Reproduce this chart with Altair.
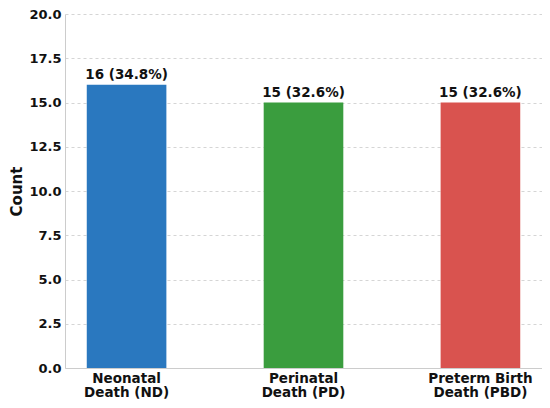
import altair as alt
import pandas as pd

categories = ["Neonatal\nDeath (ND)", "Perinatal\nDeath (PD)", "Preterm Birth\nDeath (PBD)"]
counts = [16, 15, 15]
percents = [34.8, 32.6, 32.6]
colors = ["#2a78bf", "#3a9d3e", "#d9534f"]

df = pd.DataFrame({
    "cat": categories,
    "count": counts,
    "label": [f"{c} ({p}%)" for c, p in zip(counts, percents)],
    "color": colors,
})

FONT = "DejaVu Sans"

x = alt.X("cat:N", sort=categories, title=None,
          scale=alt.Scale(paddingInner=0.55, paddingOuter=0.123),
          axis=alt.Axis(labelAngle=0, labelExpr="split(datum.label, '\\n')",
                        labelFont=FONT, labelFontWeight="bold", labelFontSize=13.5,
                        labelColor="#111", ticks=False, domainColor="#cccccc",
                        labelPadding=3, labelLineHeight=14.5))

y = alt.Y("count:Q", title="Count",
          scale=alt.Scale(domain=[0, 20], nice=False),
          axis=alt.Axis(values=[0, 2.5, 5, 7.5, 10, 12.5, 15, 17.5, 20], format=".1f",
                        labelFont=FONT, labelFontWeight="bold", labelFontSize=13,
                        labelColor="#111", titleFont=FONT, titleFontWeight="bold",
                        titleFontSize=15, titleColor="#111", ticks=False,
                        domainColor="#cccccc", gridDash=[3, 3], gridColor="#d5d5d5",
                        labelPadding=4, titlePadding=4))

bars = alt.Chart(df).mark_bar().encode(
    x=x, y=y, color=alt.Color("color:N", scale=None)
)
text = alt.Chart(df).mark_text(
    dy=-3, font=FONT, fontWeight="bold", fontSize=13.5, color="#111", baseline="bottom"
).encode(x=alt.X("cat:N", sort=categories), y="count:Q", text="label:N")

chart = (bars + text).properties(
    width=477, height=354,
    autosize=alt.AutoSizeParams(type="none"),
    padding={"left": 57, "top": 6, "right": 0, "bottom": 32},
).configure_view(stroke=None).configure_axisX(grid=False)

chart.save("out.html", embed_options={"renderer": "svg", "actions": False})
